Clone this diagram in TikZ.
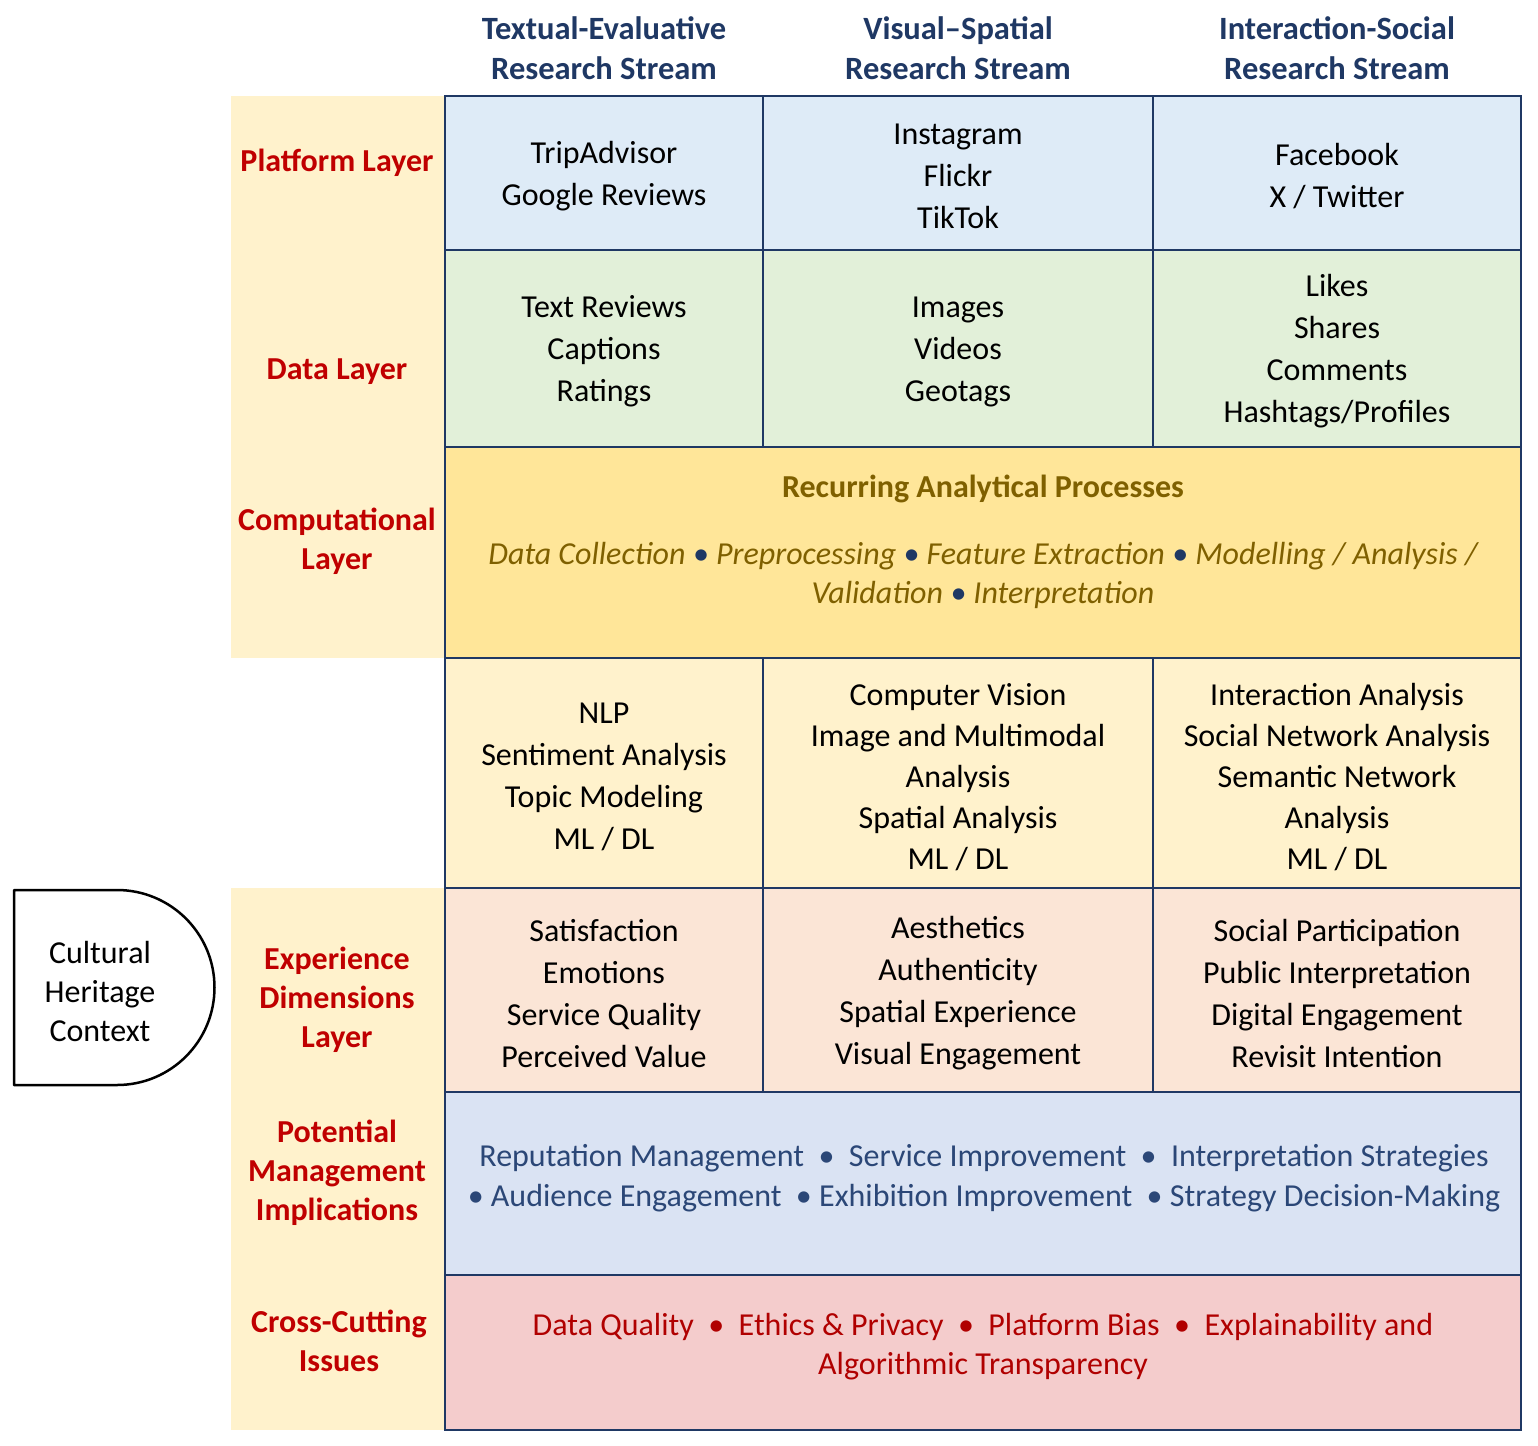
\documentclass[tikz,border=0pt]{standalone}
\usepackage{fontspec}
\setmainfont{Carlito}
\definecolor{navy}{HTML}{1F3864}
\definecolor{lblred}{HTML}{C00000}
\definecolor{olive}{HTML}{7F6000}
\definecolor{mgmt}{HTML}{2B4777}
\definecolor{xred}{HTML}{B00000}
\definecolor{lblbg}{HTML}{FFF2CC}
\definecolor{platbg}{HTML}{DEEBF7}
\definecolor{databg}{HTML}{E2F0D9}
\definecolor{compbg}{HTML}{FFE699}
\definecolor{methbg}{HTML}{FFF2CC}
\definecolor{expbg}{HTML}{FBE5D6}
\definecolor{mgmtbg}{HTML}{DAE3F3}
\definecolor{xbg}{HTML}{F4CCCC}
\begin{document}
\begin{tikzpicture}[x=1pt,y=-1pt,
  cell/.style={draw=navy, line width=2.5pt, inner sep=0pt},
  body/.style={align=center, inner sep=0pt, font=\fontsize{32}{42}\selectfont},
  hdr/.style={align=center, text=navy, font=\bfseries\fontsize{32.5}{40}\selectfont},
  lbl/.style={align=center, text=lblred, font=\bfseries\fontsize{32}{39}\selectfont},
  lblbox/.style={fill=lblbg, draw=none, inner sep=0pt}]
\useasboundingbox (0,0) rectangle (1538,1445);
% left label background
\node[lblbox, minimum width=213pt, minimum height=562pt] (lb1) at (337.5,377) {};
\node[lblbox, minimum width=213pt, minimum height=542pt] (lb2) at (337.5,1159) {};
% headers
\node[hdr] (h1) at (604,48) {Textual-Evaluative\\Research Stream};
\node[hdr] (h2) at (958,48) {Visual–Spatial\\Research Stream};
\node[hdr] (h3) at (1337,48) {Interaction-Social\\Research Stream};
% cells
\node[cell, fill=platbg, minimum width=318pt, minimum height=154pt] (p1) at (604,173) {};
\node[cell, fill=platbg, minimum width=390pt, minimum height=154pt] (p2) at (958,173) {};
\node[cell, fill=platbg, minimum width=368pt, minimum height=154pt] (p3) at (1337,173) {};
\node[cell, fill=databg, minimum width=318pt, minimum height=197pt] (d1) at (604,348.5) {};
\node[cell, fill=databg, minimum width=390pt, minimum height=197pt] (d2) at (958,348.5) {};
\node[cell, fill=databg, minimum width=368pt, minimum height=197pt] (d3) at (1337,348.5) {};
\node[cell, fill=compbg, minimum width=1076pt, minimum height=211pt] (comp) at (983,552.5) {};
\node[cell, fill=methbg, minimum width=318pt, minimum height=230pt] (m1) at (604,773) {};
\node[cell, fill=methbg, minimum width=390pt, minimum height=230pt] (m2) at (958,773) {};
\node[cell, fill=methbg, minimum width=368pt, minimum height=230pt] (m3) at (1337,773) {};
\node[cell, fill=expbg, minimum width=318pt, minimum height=204pt] (e1) at (604,990) {};
\node[cell, fill=expbg, minimum width=390pt, minimum height=204pt] (e2) at (958,990) {};
\node[cell, fill=expbg, minimum width=368pt, minimum height=204pt] (e3) at (1337,990) {};
\node[cell, fill=mgmtbg, minimum width=1076pt, minimum height=183pt] (mg) at (983,1183.5) {};
\node[cell, fill=xbg, minimum width=1076pt, minimum height=155pt] (xc) at (983,1352.5) {};
% cell texts
\node[body] (tp1) at (604,176) {TripAdvisor\\Google Reviews};
\node[body] (tp2) at (958,176.5) {Instagram\\Flickr\\TikTok};
\node[body] (tp3) at (1337,176) {Facebook\\X / Twitter};
\node[body] (td1) at (604,351.5) {Text Reviews\\Captions\\Ratings};
\node[body] (td2) at (958,351.5) {Images\\Videos\\Geotags};
\node[body] (td3) at (1337,351.5) {Likes\\Shares\\Comments\\Hashtags/Profiles};
\node[align=center, text=olive, font=\bfseries\fontsize{32}{39}\selectfont] (ctitle) at (983,489) {Recurring Analytical Processes};
\node[align=center, text=olive, font=\itshape\fontsize{32}{39}\selectfont] (cproc) at (983,575) {Data Collection \textcolor{navy}{•} Preprocessing \textcolor{navy}{•} Feature Extraction \textcolor{navy}{•} Modelling / Analysis /\\Validation \textcolor{navy}{•} Interpretation};
\node[body] (tm1) at (604,777) {NLP\\Sentiment Analysis\\Topic Modeling\\ML / DL};
\node[body, font=\fontsize{32}{41}\selectfont] (tm2) at (958,777) {Computer Vision\\Image and Multimodal\\Analysis\\Spatial Analysis\\ML / DL};
\node[body, font=\fontsize{32}{41}\selectfont] (tm3) at (1337,777) {Interaction Analysis\\Social Network Analysis\\Semantic Network\\Analysis\\ML / DL};
\node[body] (te1) at (604,993.5) {Satisfaction\\Emotions\\Service Quality\\Perceived Value};
\node[body] (te2) at (958,993.5) {Aesthetics\\Authenticity\\Spatial Experience\\Visual Engagement};
\node[body] (te3) at (1337,993.5) {Social Participation\\Public Interpretation\\Digital Engagement\\Revisit Intention};
\node[align=center, text=mgmt, font=\fontsize{32}{40}\selectfont] (mgt) at (984,1178) {Reputation Management ~•~ Service Improvement ~•~ Interpretation Strategies\\• Audience Engagement ~• Exhibition Improvement ~• Strategy Decision-Making};
\node[align=center, text=xred, font=\fontsize{32}{39}\selectfont] (xct) at (983,1347) {Data Quality ~•~ Ethics \& Privacy ~•~ Platform Bias ~•~ Explainability and\\Algorithmic Transparency};
% labels
\node[lbl] (l1) at (337,163) {Platform Layer};
\node[lbl] (l2) at (337,372) {Data Layer};
\node[lbl] (l3) at (337,541) {Computational\\Layer};
\node[lbl] (l4) at (337,1000) {Experience\\Dimensions\\Layer};
\node[lbl] (l5) at (337,1172.5) {Potential\\Management\\Implications};
\node[lbl] (l6) at (339,1341) {Cross-Cutting\\Issues};
% cultural heritage context
\draw[line width=2.5pt, line join=round] (14,890) -- (117,890) arc[start angle=-90, end angle=90, radius=97.5] -- (14,1085) -- cycle;
\node[align=center, font=\fontsize{32}{39}\selectfont] (chc) at (100,991) {Cultural\\Heritage\\Context};
\end{tikzpicture}
\end{document}
